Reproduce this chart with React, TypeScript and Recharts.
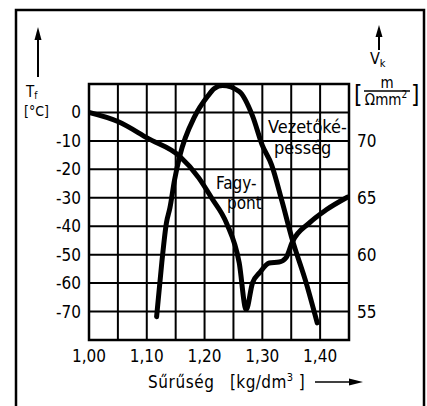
import { ComposedChart, Line, XAxis, YAxis, CartesianGrid, ReferenceArea } from "recharts";

const FONT = "'DejaVu Sans Condensed', 'DejaVu Sans', sans-serif";

// sűrűség (kg/dm³) gridlines és feliratozott értékek
const X_GRID = [1.0, 1.05, 1.1, 1.15, 1.2, 1.25, 1.3, 1.35, 1.4, 1.45];
const X_LABELED = [1.0, 1.1, 1.2, 1.3, 1.4];
// fagypont tengely (°C)
const T_TICKS = [-80, -70, -60, -50, -40, -30, -20, -10, 0, 10];
const T_LABELED = [-70, -60, -50, -40, -30, -20, -10, 0];
// vezetőképesség tengely (m/Ωmm²)
const V_TICKS = [55, 60, 65, 70];

// Fagypont görbe
const FAGY_X = [1.0, 1.05, 1.102, 1.157, 1.19, 1.212, 1.238, 1.26, 1.272, 1.283, 1.295, 1.312, 1.329, 1.341, 1.352, 1.381, 1.41, 1.447];
const FAGY_T = [0, -3.2, -9.1, -15.4, -23, -30, -38.9, -52.9, -69.3, -59.9, -56.4, -52.9, -52.6, -51.1, -45.5, -38.9, -34.3, -29.8];

// Vezetőképesség görbe
const VEZ_X = [1.117, 1.126, 1.134, 1.14, 1.148, 1.157, 1.183, 1.205, 1.217, 1.231, 1.26, 1.283, 1.3, 1.316, 1.334, 1.352, 1.376, 1.395];
const VEZ_V = [54.55, 59.3, 62.8, 64.1, 66.55, 68.65, 72.15, 73.9, 74.6, 74.86, 74.34, 72.2, 69.6, 67.9, 64.7, 61.3, 57.5, 54.0];

const fagyData = FAGY_X.map((x, i) => ({ x, t: FAGY_T[i] }));
const vezData = VEZ_X.map((x, i) => ({ x, v: VEZ_V[i] }));

const tickStyle = { fill: "#000", fontSize: 17, fontFamily: FONT };

function fmtX(v: number) {
  const hit = X_LABELED.find((l) => Math.abs(l - v) < 1e-6);
  return hit === undefined ? "" : hit.toFixed(2).replace(".", ",");
}

function fmtT(v: number) {
  return T_LABELED.includes(v) ? String(v) : "";
}

function Overlay() {
  return (
    <svg width={427} height={406} style={{ position: "absolute", left: 0, top: 0, pointerEvents: "none" }}>
      {/* keret */}
      <path d="M16 406 V10 H424 V406" fill="none" stroke="#000" strokeWidth={2.5} />
      {/* bal tengely nyíl és felirat */}
      <line x1={38} y1={36} x2={38} y2={77} stroke="#000" strokeWidth={2} />
      <path d="M34.5 40 L38 27 L41.5 40 Z" fill="#000" />
      <text x={26} y={97} fontSize={15} fontFamily={FONT}>
        T<tspan fontSize={10} dy={2}>f</tspan>
      </text>
      <text x={24} y={116} fontSize={14} fontFamily={FONT}>[°C]</text>
      {/* jobb tengely nyíl és felirat */}
      <line x1={379} y1={32} x2={379} y2={50} stroke="#000" strokeWidth={2} />
      <path d="M375.5 37 L379 25 L382.5 37 Z" fill="#000" />
      <text x={370} y={64} fontSize={16} fontFamily={FONT}>
        V<tspan fontSize={11} dy={3}>k</tspan>
      </text>
      <text x={354} y={103} fontSize={24} fontFamily={FONT}>[</text>
      <text x={411} y={103} fontSize={24} fontFamily={FONT}>]</text>
      <text x={387} y={88} fontSize={15} fontFamily={FONT} textAnchor="middle">m</text>
      <line x1={364} y1={91} x2={410} y2={91} stroke="#000" strokeWidth={1.5} />
      <text x={386} y={105} fontSize={15} fontFamily={FONT} textAnchor="middle">
        Ωmm<tspan fontSize={10} dy={-7}>2</tspan>
      </text>
      {/* görbék feliratai */}
      <text x={268} y={133} fontSize={18} fontFamily={FONT}>Vezetőké-</text>
      <text x={274} y={154} fontSize={18} fontFamily={FONT}>pesség</text>
      <text x={216} y={189} fontSize={17} fontFamily={FONT}>Fagy-</text>
      <text x={227} y={209} fontSize={17} fontFamily={FONT}>pont</text>
      {/* x tengely címe */}
      <text x={148} y={388} fontSize={17} fontFamily={FONT} letterSpacing={0.6}>
        Sűrűség
      </text>
      <text x={230} y={388} fontSize={17} fontFamily={FONT} letterSpacing={0.4}>
        [kg/dm<tspan fontSize={11} dy={-7}>3</tspan><tspan dy={7}> ]</tspan>
      </text>
      <line x1={315} y1={382} x2={352} y2={382} stroke="#000" strokeWidth={1.5} />
      <path d="M349 378.5 L363 382 L349 385.5 Z" fill="#000" />
    </svg>
  );
}

export default function App() {
  return (
    <div style={{ position: "absolute", left: 0, top: 0, width: 427, height: 406, background: "#fff" }}>
      <ComposedChart width={427} height={406} margin={{ top: 84, right: 18, bottom: 36, left: 29 }}>
        <CartesianGrid stroke="#000" strokeWidth={2} yAxisId="left" />
        <XAxis
          dataKey="x"
          type="number"
          domain={[1.0, 1.45]}
          ticks={X_GRID}
          tickFormatter={fmtX}
          allowDataOverflow
          axisLine={false}
          tickLine={false}
          tick={tickStyle}
          tickMargin={4}
          height={30}
          interval={0}
        />
        <YAxis
          yAxisId="left"
          type="number"
          domain={[-80, 10]}
          ticks={T_TICKS}
          tickFormatter={fmtT}
          allowDataOverflow
          axisLine={false}
          tickLine={false}
          tick={tickStyle}
          width={60}
          interval={0}
        />
        <YAxis
          yAxisId="right"
          orientation="right"
          type="number"
          domain={[52.5, 75]}
          ticks={V_TICKS}
          allowDataOverflow
          axisLine={false}
          tickLine={false}
          tick={{ ...tickStyle, textAnchor: "start" }}
          width={60}
          interval={0}
        />
        <ReferenceArea yAxisId="left" x1={1.0} x2={1.45} y1={-80} y2={10} fill="none" stroke="#000" strokeWidth={2.5} />
        <Line
          yAxisId="left"
          data={fagyData}
          dataKey="t"
          type="monotone"
          stroke="#000"
          strokeWidth={5}
          strokeLinecap="round"
          dot={false}
          isAnimationActive={false}
        />
        <Line
          yAxisId="right"
          data={vezData}
          dataKey="v"
          type="monotone"
          stroke="#000"
          strokeWidth={5}
          strokeLinecap="round"
          dot={false}
          isAnimationActive={false}
        />
      </ComposedChart>
      <Overlay />
    </div>
  );
}
